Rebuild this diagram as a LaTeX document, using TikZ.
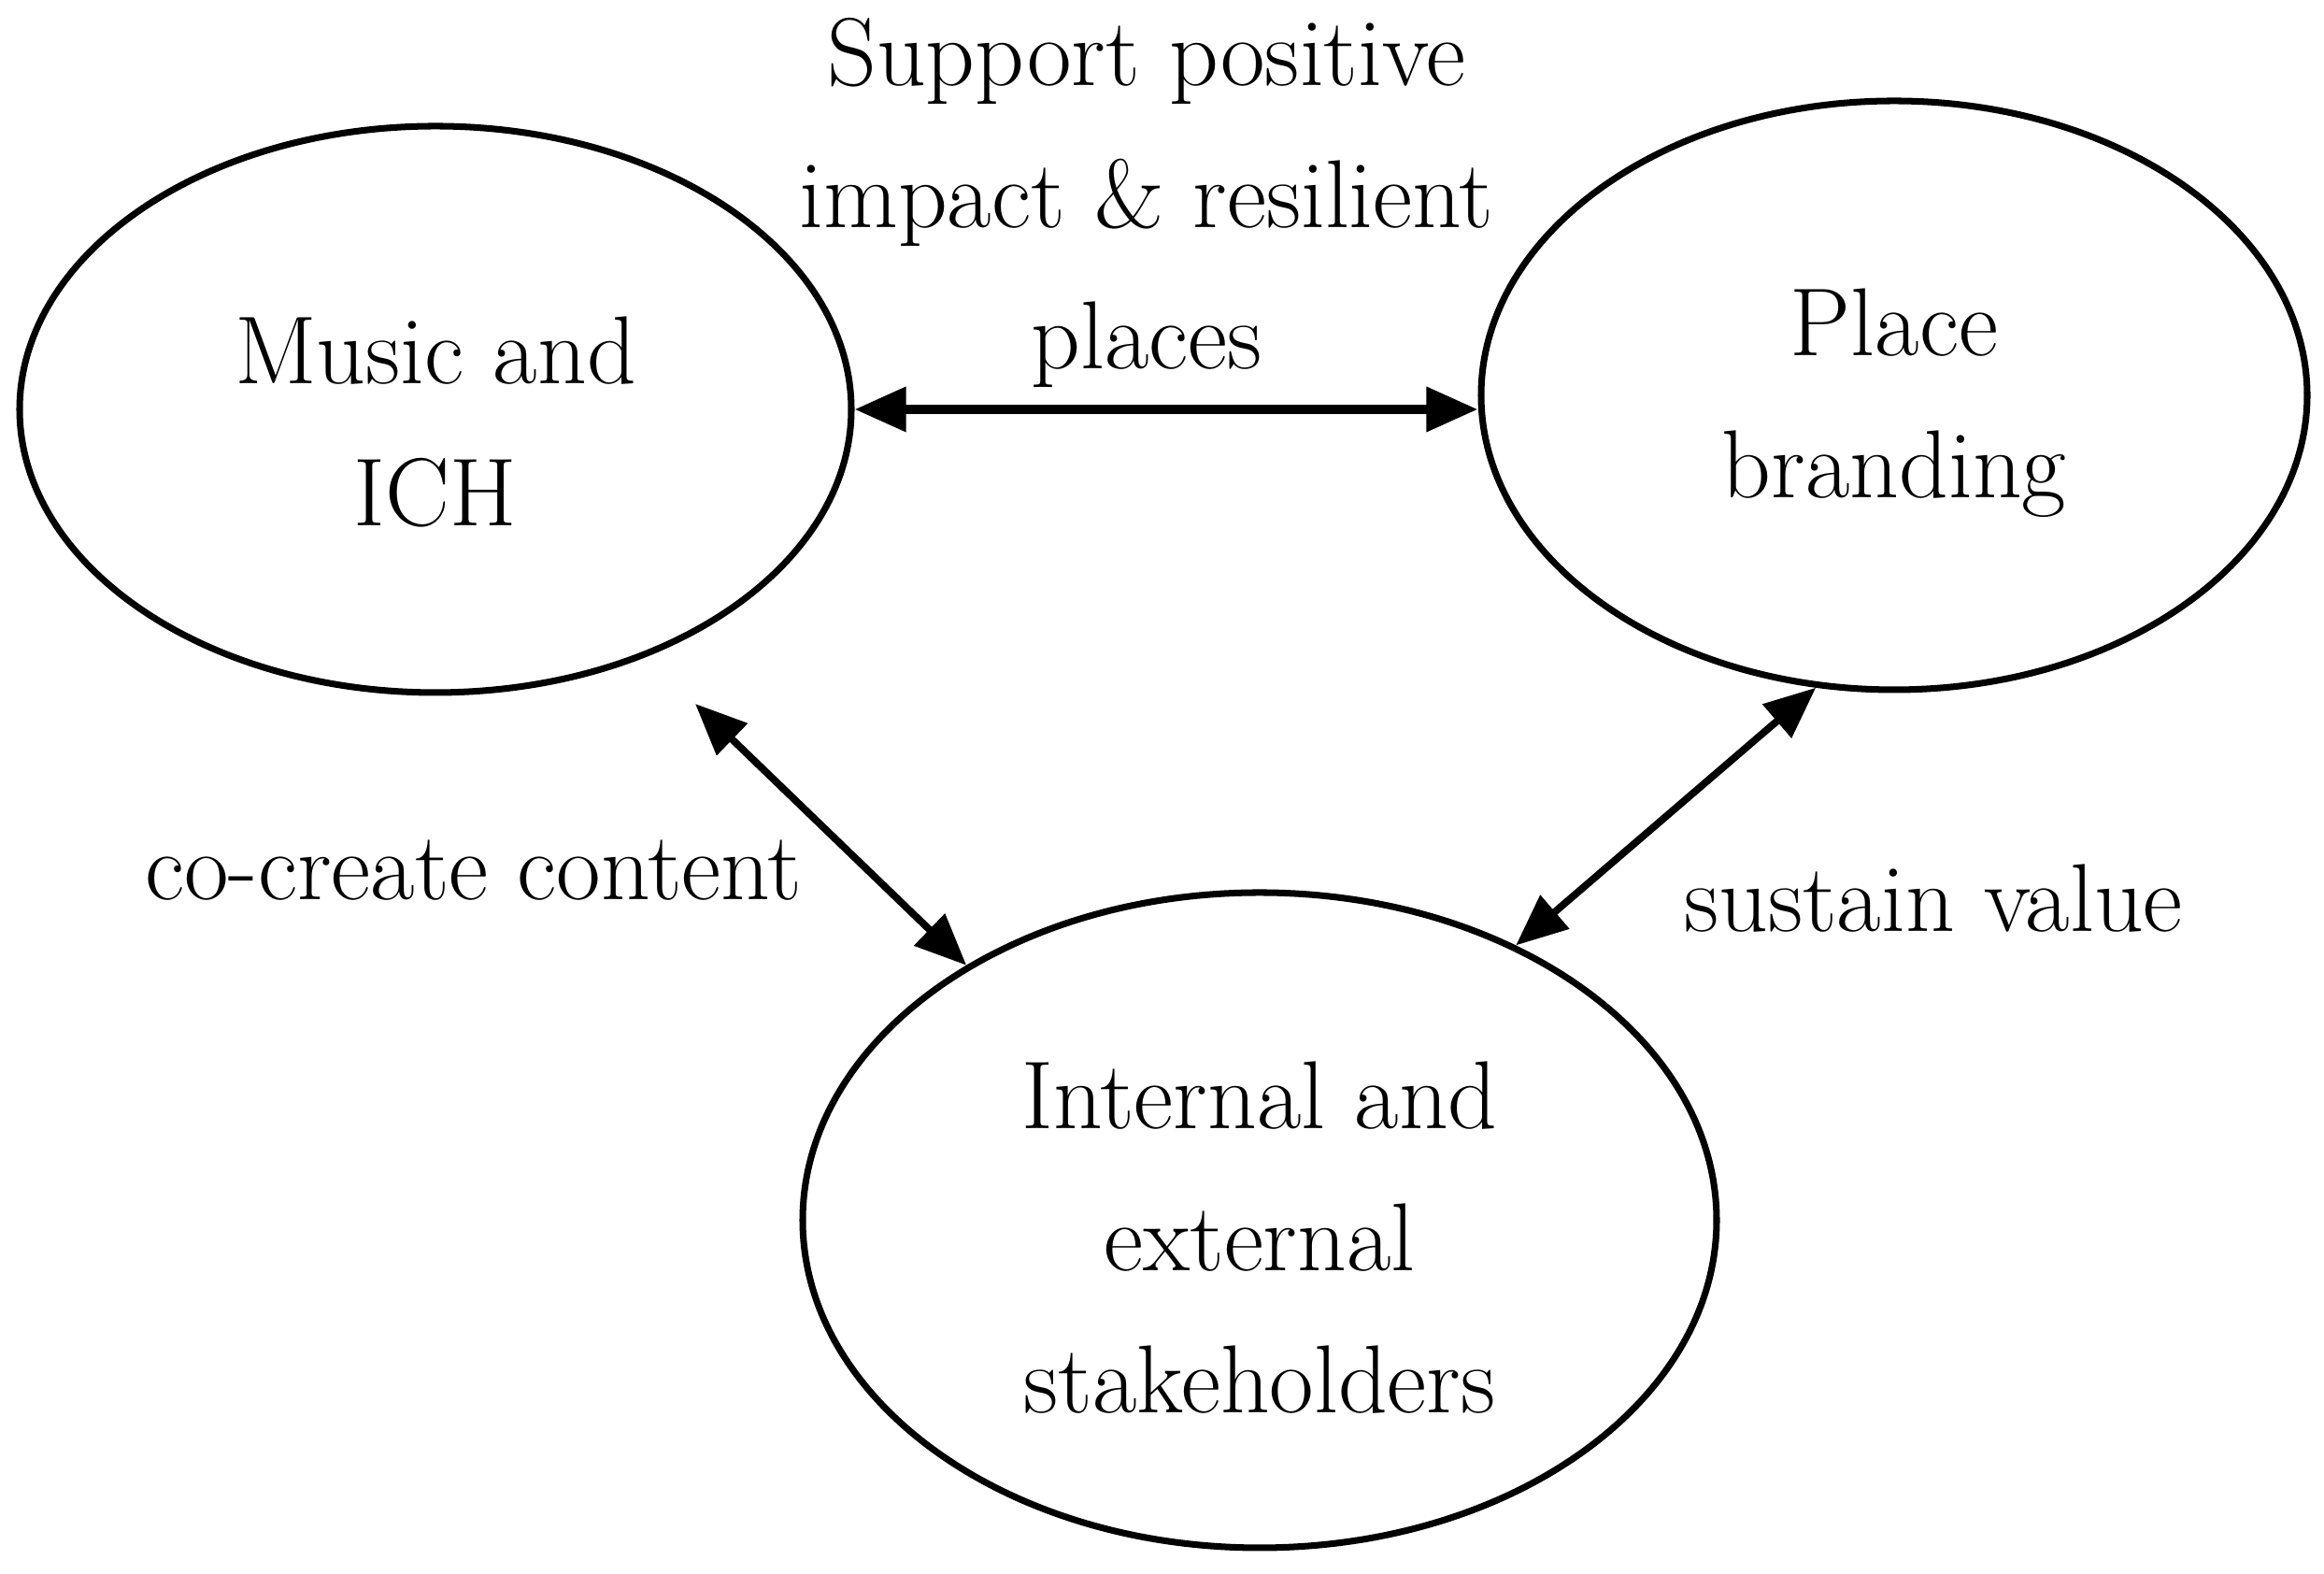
\documentclass[tikz,border=0pt]{standalone}
\usepackage{tikz}
\usetikzlibrary{shapes.geometric,arrows.meta}
\tikzset{
  bubble/.style={draw, ellipse, line width=2pt, inner sep=0pt, align=center,
    font=\fontsize{29.4}{43.2}\selectfont},
  link/.style={{Triangle[length=0.55cm,width=0.46cm]}-{Triangle[length=0.55cm,width=0.46cm]},
    line width=2.2pt},
  lbl/.style={align=center, font=\fontsize{29.4}{43.2}\selectfont}
}

\begin{document}
\begin{tikzpicture}
\useasboundingbox (0,0) rectangle (24.87,16.84);
\node[bubble, minimum width=8.90cm, minimum height=6.06cm, text height=71.4pt] (music) at (4.66,12.46) {Music and\\ICH};
\node[bubble, minimum width=8.84cm, minimum height=6.30cm, text height=68.4pt] (place) at (20.27,12.61) {Place\\branding};
\node[bubble, minimum width=9.78cm, minimum height=7.01cm, text height=117.4pt] (stake) at (13.48,3.785) {Internal and\\external\\stakeholders};

\node[lbl] (support) at (12.27,14.67) {Support positive\\impact \& resilient\\places};
\node[lbl, anchor=base] (cocreate) at (5.07,7.21) {co-create content};
\node[lbl, anchor=base] (sustain) at (20.69,6.87) {sustain value};

\coordinate (cotop) at (7.44,9.31);
\draw[link, line width=2.8pt] (music.east) -- (music.east -| place.west);
\draw[link] (cotop) -- (stake.139);
\draw[link] (place.-105) -- (stake.47);
\end{tikzpicture}
\end{document}
